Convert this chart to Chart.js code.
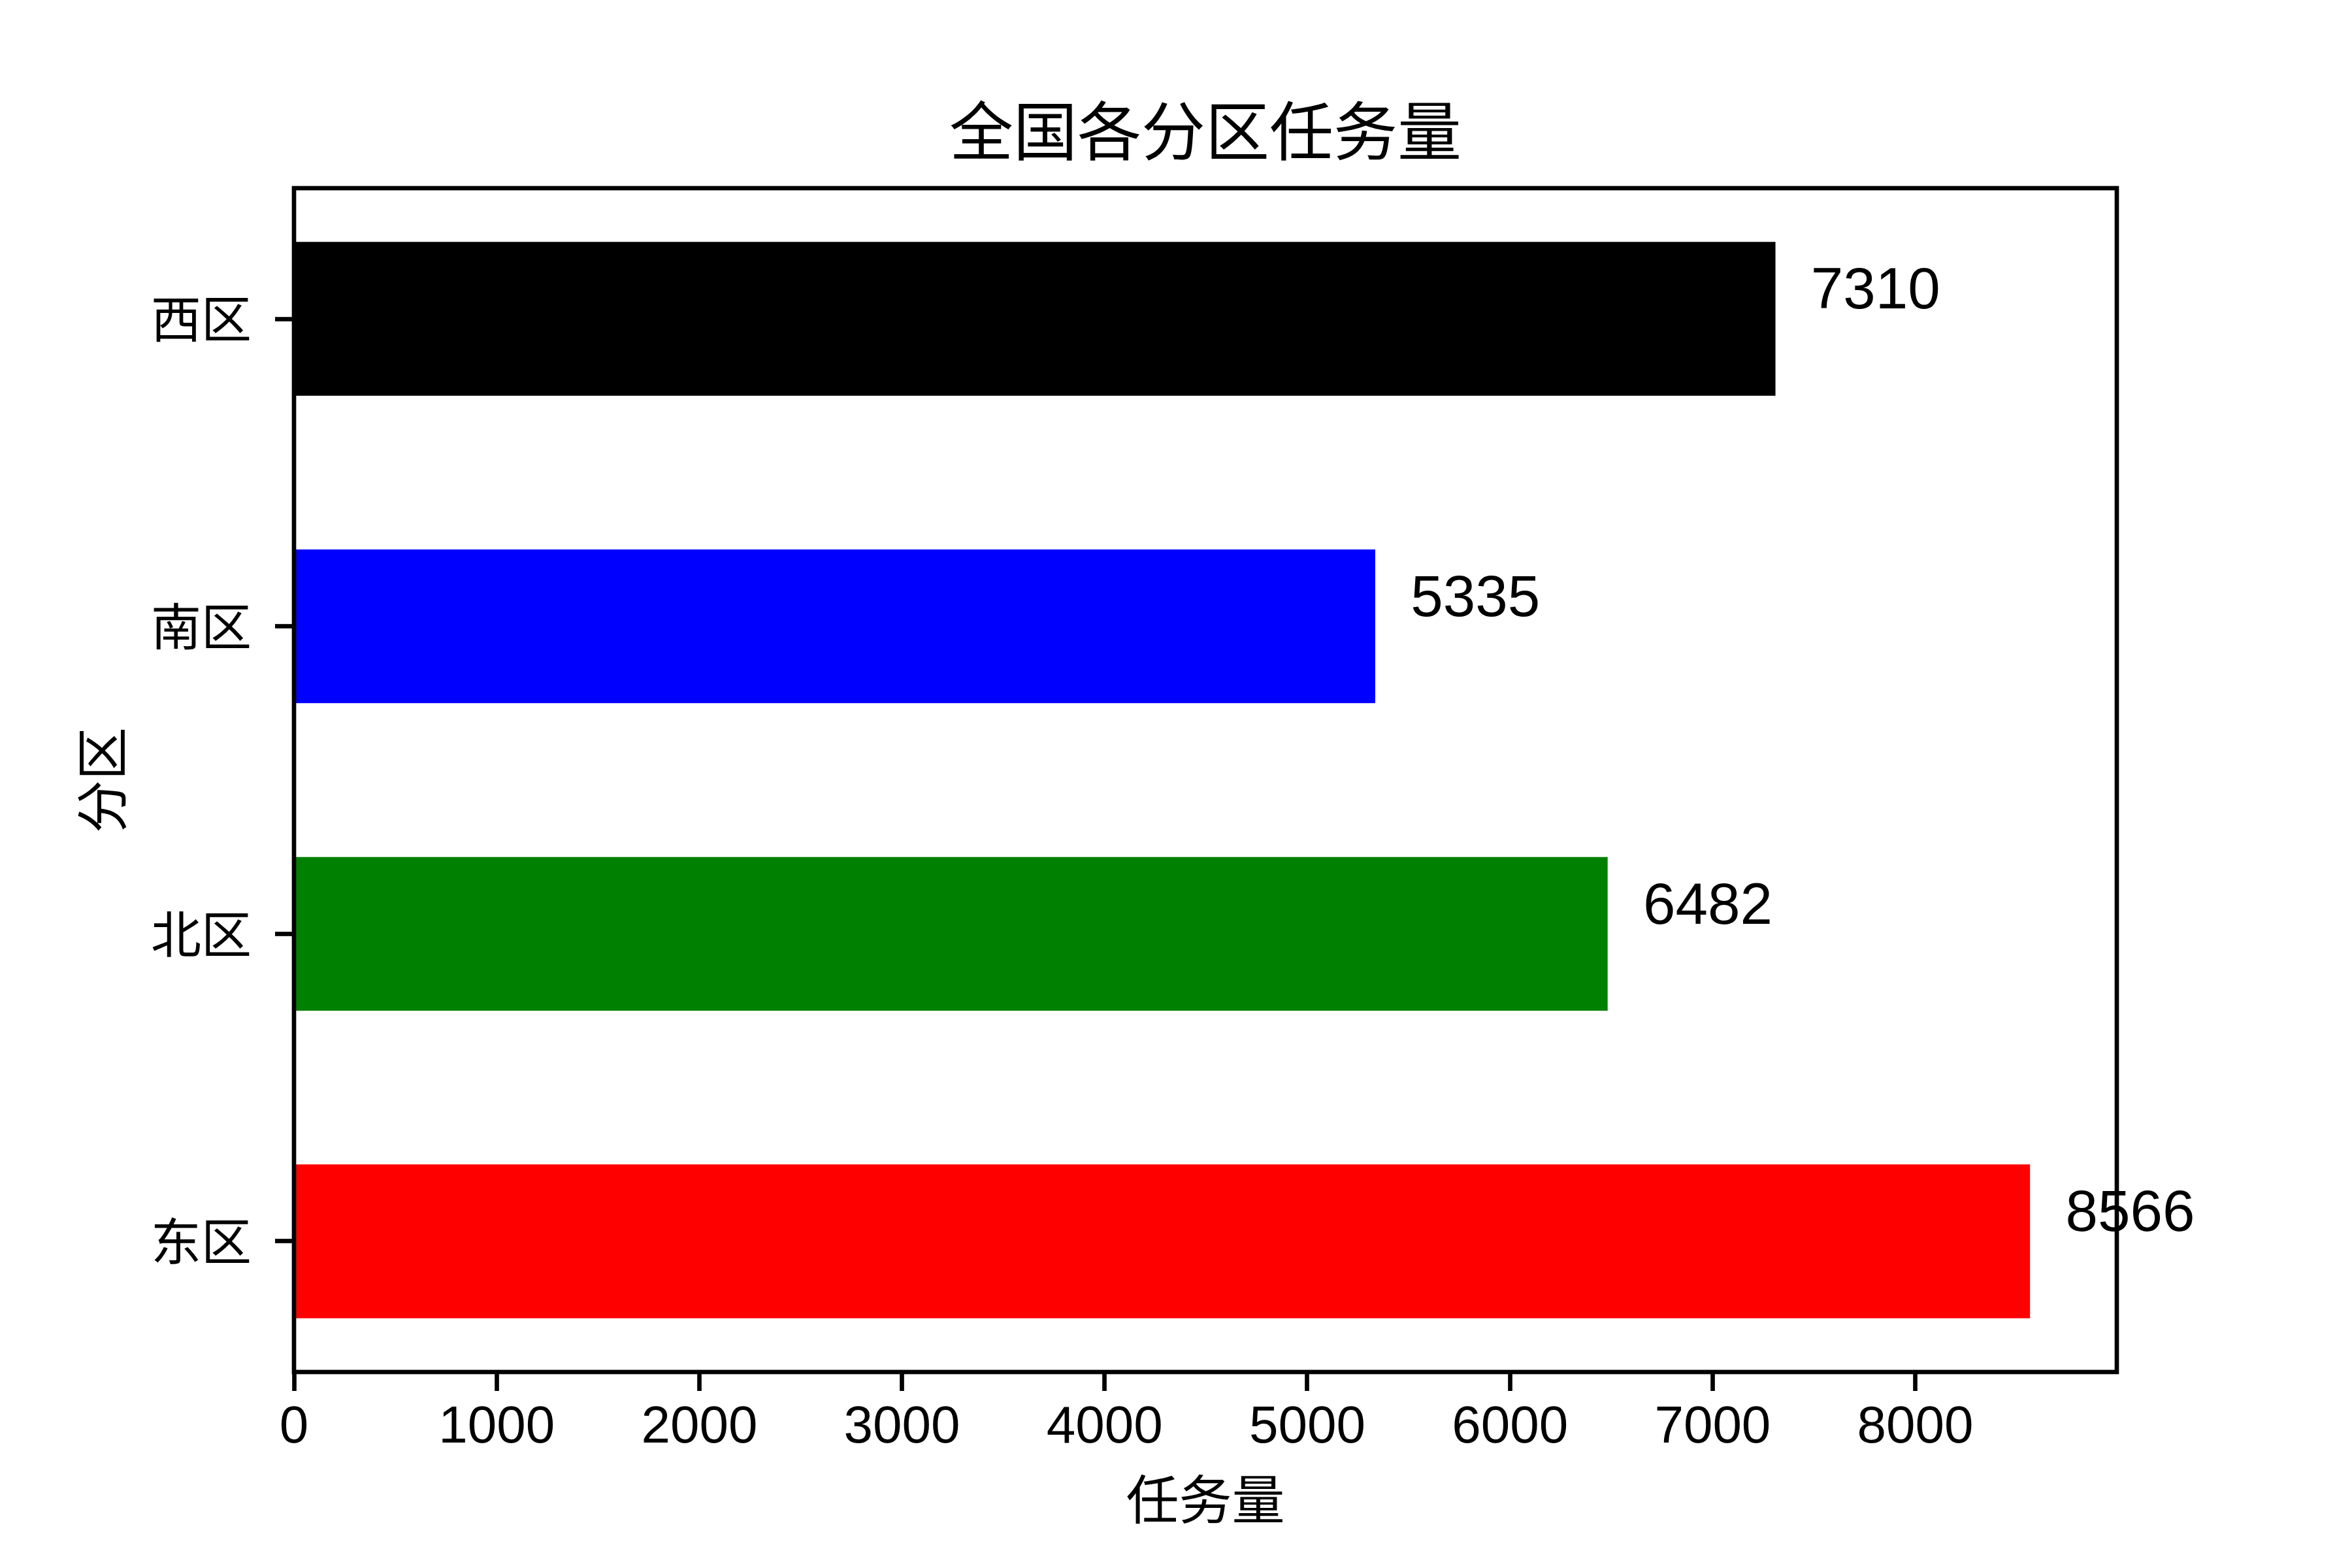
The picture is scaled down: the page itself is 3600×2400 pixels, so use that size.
<!DOCTYPE html>
<html><head><meta charset="utf-8">
<script src="https://cdn.jsdelivr.net/npm/chart.js@4"></script>
<style>html,body{margin:0;padding:0;background:#fff}canvas{display:block}</style>
</head><body>
<canvas id="c" width="3600" height="2400"></canvas>
<script>
// ---- data ----
const regions = ['东区', '北区', '南区', '西区'];
const tasks = [8566, 6482, 5335, 7310];
const xTickValues = [0, 1000, 2000, 3000, 4000, 5000, 6000, 7000, 8000];
const chartTitle = '全国各分区任务量';
const xAxisTitle = '任务量';
const yAxisTitle = '分区';

// ---- styles ----
const barColors = ['#ff0000', '#008000', '#0000ff', '#000000'];
const CJK = '"Noto Sans CJK SC", sans-serif';
const NUM = '"Liberation Sans Narrow", "Liberation Sans", sans-serif';
const LAB = '"Liberation Sans", Arial, sans-serif';
const LW = 6.67;
const xMax = Math.max(...tasks) * 1.05;
const labelOffset = 175;

const deco = {
  id: 'deco',
  afterDatasetsDraw(chart) {
    const {ctx, chartArea: a, scales: {x, y}} = chart;
    ctx.save();
    ctx.lineWidth = LW;
    ctx.strokeStyle = '#000';
    ctx.strokeRect(a.left, a.top, a.right - a.left, a.bottom - a.top);
    ctx.fillStyle = '#000';
    ctx.font = '89px ' + LAB;
    ctx.textAlign = 'left';
    ctx.textBaseline = 'alphabetic';
    tasks.forEach((v, i) => {
      ctx.fillText(String(v), x.getPixelForValue(v + labelOffset), y.getPixelForValue(i + 0.033));
    });
    ctx.restore();
  },
  afterDraw(chart) {
    const {ctx, chartArea: a} = chart;
    ctx.save();
    ctx.fillStyle = '#000';
    ctx.textAlign = 'center';
    ctx.textBaseline = 'middle';
    ctx.font = '98px ' + CJK;
    ctx.fillText(chartTitle, (a.left + a.right) / 2, 200);
    ctx.font = '81px ' + CJK;
    ctx.fillText(xAxisTitle, (a.left + a.right) / 2, 2294);
    ctx.translate(155, (a.top + a.bottom) / 2);
    ctx.rotate(-Math.PI / 2);
    ctx.fillText(yAxisTitle, 0, 0);
    ctx.restore();
  }
};

const tickGrid = {display: true, drawOnChartArea: false, drawTicks: true, tickLength: 29,
  tickWidth: LW, tickColor: '#000', offset: false};

new Chart(document.getElementById('c'), {
  type: 'bar',
  data: {
    datasets: [{
      data: tasks.map((v, i) => ({x: v, y: i})),
      backgroundColor: barColors,
      borderWidth: 0,
      categoryPercentage: 1,
      barPercentage: 0.5
    }]
  },
  options: {
    indexAxis: 'y',
    responsive: false,
    animation: false,
    devicePixelRatio: 1,
    layout: {padding: {top: 288, right: 360, left: 0, bottom: 0}},
    plugins: {legend: {display: false}, tooltip: {enabled: false}, title: {display: false}},
    scales: {
      x: {
        type: 'linear', min: 0, max: xMax, offset: false,
        afterBuildTicks: s => { s.ticks = xTickValues.map(v => ({value: v})); },
        afterFit: s => { s.height = 300; },
        grid: tickGrid,
        border: {display: false},
        ticks: {font: {family: NUM, size: 80}, color: '#000', padding: 9, maxRotation: 0, autoSkip: false,
          callback: v => String(v)}
      },
      y: {
        type: 'linear', min: -0.425, max: 3.425, offset: false,
        afterBuildTicks: s => { s.ticks = regions.map((_, i) => ({value: i})); },
        afterFit: s => { s.width = 450; },
        grid: tickGrid,
        border: {display: false},
        ticks: {font: {family: CJK, size: 77}, color: '#000', padding: 36, autoSkip: false,
          callback: v => regions[v]}
      }
    }
  },
  plugins: [deco]
});
</script>
</body></html>
